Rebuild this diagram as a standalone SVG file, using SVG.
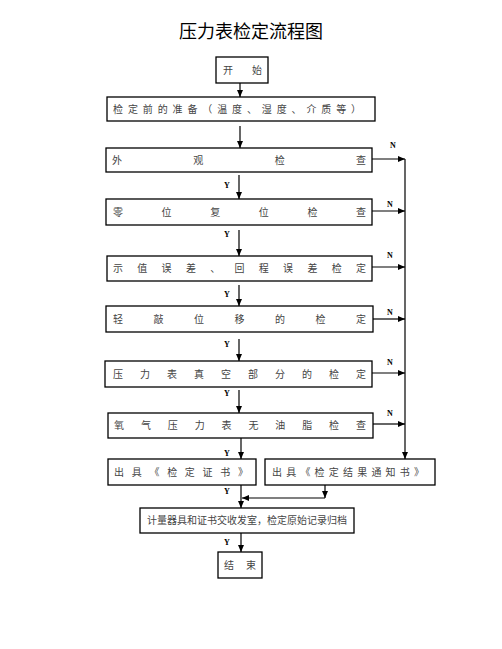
<svg xmlns="http://www.w3.org/2000/svg" width="502" height="649" viewBox="0 0 502 649">
<style>
.box{fill:#fff;stroke:#000;stroke-width:1.3}
.t{font-family:"Liberation Serif","Noto Sans CJK SC",serif;font-size:10px;fill:#444}
.title{font-family:"Liberation Serif","Noto Sans CJK SC",serif;font-size:18px;fill:#000}
.lb{font-family:"Liberation Serif",serif;font-size:8px;font-weight:bold;fill:#000}
.c{stroke:#000;stroke-width:1.2;fill:none}
</style>
<defs>
<marker id="ah" markerWidth="8" markerHeight="8" refX="7" refY="4" orient="auto" markerUnits="userSpaceOnUse">
<path d="M0,1 L7,4 L0,7 Z" fill="#000"/>
</marker>
</defs>
<text class="title" x="251" y="38" text-anchor="middle">压力表检定流程图</text>
<g id="start"><rect class="box" x="216" y="57" width="52" height="26"/><text class="t" x="223" y="74" textLength="39">开始</text></g>
<g id="prep"><rect class="box" x="107" y="97" width="268" height="24"/><text class="t" x="113" y="113" textLength="248">检定前的准备（温度、湿度、介质等）</text></g>
<g id="n1"><rect class="box" x="106" y="148" width="266" height="24"/><text class="t" x="112" y="164" textLength="254">外观检查</text></g>
<g id="n2"><rect class="box" x="106" y="199" width="266" height="26"/><text class="t" x="113" y="216" textLength="253">零位复位检查</text></g>
<g id="n3"><rect class="box" x="107" y="256" width="265" height="25"/><text class="t" x="113" y="272" textLength="253">示值误差、回程误差检定</text></g>
<g id="n4"><rect class="box" x="106" y="306" width="267" height="26"/><text class="t" x="113" y="323" textLength="253">轻敲位移的检定</text></g>
<g id="n5"><rect class="box" x="105" y="361" width="267" height="26"/><text class="t" x="113" y="378" textLength="253">压力表真空部分的检定</text></g>
<g id="n6"><rect class="box" x="108" y="413" width="265" height="25"/><text class="t" x="114" y="429" textLength="252">氧气压力表无油脂检查</text></g>
<g id="cert"><rect class="box" x="108" y="459" width="148" height="26"/><text class="t" x="114" y="476" textLength="134">出具《检定证书》</text></g>
<g id="notice"><rect class="box" x="265" y="459" width="170" height="26"/><text class="t" x="272" y="476" textLength="152">出具《检定结果通知书》</text></g>
<g id="archive"><rect class="box" x="140" y="508" width="214" height="25"/><text class="t" x="147" y="524" textLength="200">计量器具和证书交收发室，检定原始记录归档</text></g>
<g id="end"><rect class="box" x="218" y="552" width="44" height="26"/><text class="t" x="224" y="569" textLength="32">结束</text></g>
<g id="connectors">
<line class="c" x1="240" y1="83" x2="240" y2="97" marker-end="url(#ah)"/>
<line class="c" x1="240" y1="126" x2="240" y2="148" marker-end="url(#ah)"/>
<line class="c" x1="239" y1="175" x2="239" y2="199" marker-end="url(#ah)"/>
<line class="c" x1="239" y1="230" x2="239" y2="256" marker-end="url(#ah)"/>
<line class="c" x1="239" y1="285" x2="239" y2="306" marker-end="url(#ah)"/>
<line class="c" x1="239" y1="339" x2="239" y2="361" marker-end="url(#ah)"/>
<line class="c" x1="239" y1="390" x2="239" y2="413" marker-end="url(#ah)"/>
<line class="c" x1="241" y1="438" x2="241" y2="459" marker-end="url(#ah)"/>
<line class="c" x1="241" y1="485" x2="241" y2="508" marker-end="url(#ah)"/>
<line class="c" x1="325" y1="485" x2="325" y2="498" marker-end="url(#ah)"/>
<line class="c" x1="325" y1="498" x2="242" y2="498" marker-end="url(#ah)"/>
<line class="c" x1="241" y1="533" x2="241" y2="552" marker-end="url(#ah)"/>
<line class="c" x1="405" y1="159" x2="405" y2="459" marker-end="url(#ah)"/>
<line class="c" x1="372" y1="159" x2="405" y2="159" marker-end="url(#ah)"/>
<line class="c" x1="372" y1="211" x2="405" y2="211" marker-end="url(#ah)"/>
<line class="c" x1="372" y1="267" x2="405" y2="267" marker-end="url(#ah)"/>
<line class="c" x1="373" y1="319" x2="405" y2="319" marker-end="url(#ah)"/>
<line class="c" x1="372" y1="373" x2="405" y2="373" marker-end="url(#ah)"/>
<line class="c" x1="373" y1="424" x2="405" y2="424" marker-end="url(#ah)"/>
<text class="lb" x="390" y="148">N</text>
<text class="lb" x="387" y="207">N</text>
<text class="lb" x="387" y="258">N</text>
<text class="lb" x="387" y="315">N</text>
<text class="lb" x="387" y="365">N</text>
<text class="lb" x="387" y="416">N</text>
<text class="lb" x="224" y="188">Y</text>
<text class="lb" x="224" y="237">Y</text>
<text class="lb" x="224" y="297">Y</text>
<text class="lb" x="224" y="347">Y</text>
<text class="lb" x="224" y="396">Y</text>
<text class="lb" x="224" y="456">Y</text>
<text class="lb" x="224" y="494">Y</text>
<text class="lb" x="224" y="545">Y</text>
</g>
</svg>
